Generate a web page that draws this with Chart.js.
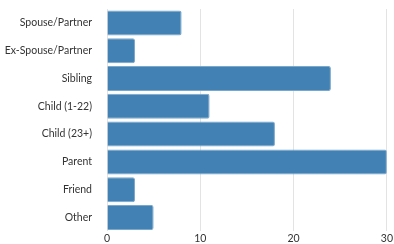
<!DOCTYPE html>
<html>
<head>
<meta charset="utf-8">
<script src="https://cdn.jsdelivr.net/npm/chart.js@4"></script>
<style>
  html, body { margin: 0; padding: 0; background: #fff; }
  #wrap { width: 394px; height: 244px; }
</style>
</head>
<body>
<div id="wrap"><canvas id="chart" width="394" height="244"></canvas></div>
<script>
// categories and counts
var relations = ['Spouse/Partner', 'Ex-Spouse/Partner', 'Sibling', 'Child (1-22)', 'Child (23+)', 'Parent', 'Friend', 'Other'];
var counts = [8, 3, 24, 11, 18, 30, 3, 5];
var xTicks = [0, 10, 20, 30];

var labelFont = { family: 'Lato', size: 10.5 };

var chart = new Chart(document.getElementById('chart'), {
	type: 'bar',
	data: {
		labels: relations,
		datasets: [{
			data: counts,
			backgroundColor: '#4181b3',
			borderColor: '#7aa7cc',
			borderWidth: 1,
			borderRadius: 2,
			borderSkipped: 'start',
			barPercentage: 0.9,
			categoryPercentage: 1
		}]
	},
	options: {
		indexAxis: 'y',
		responsive: false,
		animation: false,
		layout: { padding: { top: 9, right: 0, left: 0, bottom: -2 } },
		plugins: { legend: { display: false }, tooltip: { enabled: false } },
		scales: {
			x: {
				min: xTicks[0],
				max: xTicks[xTicks.length - 1],
				afterBuildTicks: function(axis) {
					axis.ticks = xTicks.map(function(v) { return { value: v }; });
				},
				border: { display: false },
				grid: { color: '#e3e3e3', drawTicks: false },
				ticks: { color: '#333', padding: 1, font: labelFont }
			},
			y: {
				afterFit: function(axis) {
					axis.width = 107;
					axis.paddingTop = 0;
					axis.paddingBottom = 0;
				},
				border: { display: false },
				grid: { display: false },
				ticks: { color: '#333', padding: 7, font: labelFont }
			}
		}
	}
});
</script>
</body>
</html>
